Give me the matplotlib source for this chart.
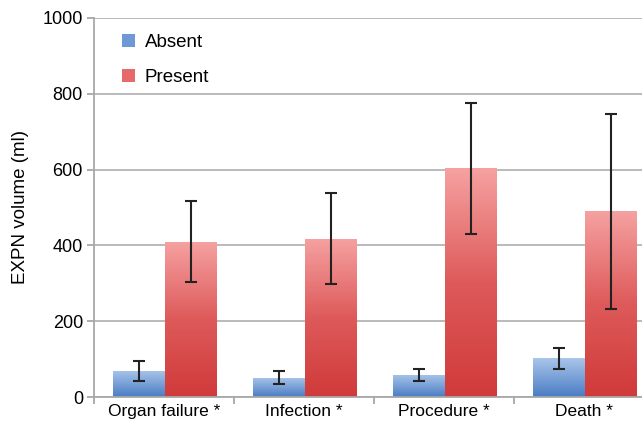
import matplotlib
matplotlib.use("Agg")
import matplotlib.pyplot as plt
import numpy as np
from matplotlib.colors import LinearSegmentedColormap
from matplotlib.patches import Patch

plt.rcParams["font.family"] = ["Liberation Sans", "DejaVu Sans"]

categories = ["Organ failure *", "Infection *", "Procedure *", "Death *"]
absent_vals = [69, 51, 59, 102]
absent_err = [26, 17, 16, 28]
present_vals = [410, 418, 603, 490]
present_err = [107, 120, 172, 257]

blue_cmap = LinearSegmentedColormap.from_list("blue_grad", ["#4a7cc4", "#a9c5ea"])
red_cmap = LinearSegmentedColormap.from_list("red_grad", ["#d03a3a", "#de5a5a", "#f6a1a1"])
grad = np.linspace(0, 1, 256).reshape(-1, 1)

fig = plt.figure(figsize=(6.42, 4.22), dpi=100)
ax = fig.add_axes([94 / 642, 25 / 422, 560 / 642, 379 / 422])

x = np.arange(len(categories))
width = 0.37


def gradient_bars(xs, vals, cmap):
    bars = ax.bar(xs, vals, width, facecolor="none", edgecolor="none", zorder=3)
    for b in bars:
        x0, y0 = b.get_x(), b.get_y()
        w, h = b.get_width(), b.get_height()
        im = ax.imshow(grad, cmap=cmap, origin="lower", aspect="auto",
                       extent=[x0, x0 + w, y0, y0 + h], zorder=2)
        im.set_clip_path(b)
    return bars


gradient_bars(x - width / 2 + 0.005, absent_vals, blue_cmap)
gradient_bars(x + width / 2 + 0.005, present_vals, red_cmap)

ax.errorbar(x - width / 2 + 0.005, absent_vals, yerr=absent_err, fmt="none",
            ecolor="#222222", elinewidth=1.5, capsize=4, capthick=1.5, zorder=4)
ax.errorbar(x + width / 2 + 0.005, present_vals, yerr=present_err, fmt="none",
            ecolor="#222222", elinewidth=1.5, capsize=4, capthick=1.5, zorder=4)

ax.set_xlim(-0.5, len(categories) - 0.5)
ax.set_ylim(0, 1000)
ax.set_yticks(range(0, 1001, 200))
ax.set_xticks(x)
ax.set_xticklabels(categories)
ax.set_xticks(np.arange(-0.5, len(categories)), minor=True)
ax.tick_params(axis="x", which="major", length=0, labelsize=12.5, pad=5)
ax.tick_params(axis="x", which="minor", length=5, width=1.2, color="#a0a0a0")
ax.tick_params(axis="y", length=5, width=1.2, color="#a0a0a0", labelsize=13, pad=3)

ax.grid(axis="y", color="#b4b4b4", linewidth=1.3, zorder=0)
ax.set_axisbelow(True)
for side in ("top", "right"):
    ax.spines[side].set_visible(False)
for side in ("left", "bottom"):
    ax.spines[side].set_color("#a8a8a8")
    ax.spines[side].set_linewidth(1.3)

ax.set_ylabel("EXPN volume (ml)", fontsize=13.5, labelpad=10)

handles = [Patch(facecolor="#6f98d6", label="Absent"),
           Patch(facecolor="#e66a6a", label="Present")]
ax.legend(handles=handles, loc="upper left", bbox_to_anchor=(0.02, 1.003),
          frameon=False, fontsize=13.5, handlelength=0.7, handleheight=0.7,
          handletextpad=0.5, labelspacing=0.95)

fig.savefig("out.png", dpi=100)
